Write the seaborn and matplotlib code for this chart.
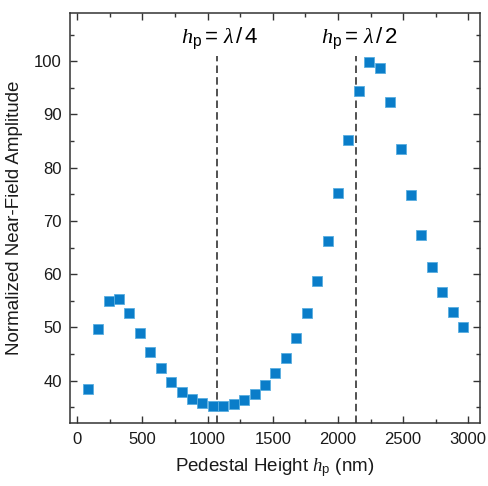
import matplotlib
matplotlib.use("Agg")
import matplotlib.pyplot as plt
import seaborn as sns
import numpy as np
import pandas as pd
from matplotlib.ticker import MultipleLocator

# Data
heights = [80, 160, 240, 320, 400, 480, 560, 640, 720, 800, 880, 960, 1040, 1120,
           1200, 1280, 1360, 1440, 1520, 1600, 1680, 1760, 1840, 1920, 2000, 2080,
           2160, 2240, 2320, 2400, 2480, 2560, 2640, 2720, 2800, 2880, 2960]
amplitude = [38.4, 49.7, 54.9, 55.4, 52.8, 49.0, 45.3, 42.3, 39.8, 37.9, 36.6, 35.8,
             35.3, 35.2, 35.6, 36.3, 37.5, 39.1, 41.4, 44.3, 48.1, 52.8, 58.8, 66.25,
             75.25, 85.25, 94.45, 99.8, 98.7, 92.25, 83.5, 74.9, 67.45, 61.3, 56.6,
             52.9, 50.1]
line_positions = [1070, 2142]
line_labels = [r"$h_{\mathrm{p}}\,\!=\,\lambda\,/\,4$", r"$h_{\mathrm{p}}\,\!=\,\lambda\,/\,2$"]

sns.set_theme(style="ticks")
plt.rcParams['font.family'] = ['Liberation Sans', 'DejaVu Sans']
plt.rcParams['mathtext.fontset'] = 'custom'
plt.rcParams['mathtext.rm'] = 'Liberation Sans'
plt.rcParams['mathtext.it'] = 'Liberation Serif:italic'
plt.rcParams['mathtext.sf'] = 'Liberation Sans'
plt.rcParams['text.color'] = '#1a1a1a'
plt.rcParams['axes.labelcolor'] = '#1a1a1a'
plt.rcParams['xtick.labelcolor'] = '#1a1a1a'
plt.rcParams['ytick.labelcolor'] = '#1a1a1a'

df = pd.DataFrame({"h": heights, "amp": amplitude})

fig = plt.figure(figsize=(4.88, 4.86), dpi=100)
ax = fig.add_axes([0.144, 0.129, 0.8396, 0.8437])

sns.scatterplot(data=df, x="h", y="amp", marker="s", s=62, color="#0a7dc9",
                edgecolor="#5aaee0", linewidth=0.6, ax=ax, zorder=3, legend=False)

for xp, lab in zip(line_positions, line_labels):
    ax.plot([xp, xp], [32, 101], ls=(0, (4.5, 2.5)), color="#333333", lw=1.2, zorder=2)
    ax.text(xp + 20, 102.0, lab, ha="center", va="bottom", fontsize=16, color="black")

ax.set_xlim(-54, 3090)
ax.set_ylim(32, 109)
ax.xaxis.set_major_locator(MultipleLocator(500))
ax.xaxis.set_minor_locator(MultipleLocator(250))
ax.set_yticks([40, 50, 60, 70, 80, 90, 100])
ax.yaxis.set_minor_locator(MultipleLocator(5))

ax.tick_params(which="both", direction="in", top=True, right=True,
               labeltop=False, labelright=False, color="#333333")
ax.tick_params(which="major", length=5.3, width=1.0, labelsize=12, pad=6)
ax.tick_params(which="minor", length=3, width=1.0)
for sp in ax.spines.values():
    sp.set_color("#333333")
    sp.set_linewidth(1.1)

ax.set_xlabel(r"Pedestal Height $h_{\mathrm{p}}$ (nm)", fontsize=13.5, labelpad=7)
ax.set_ylabel("Normalized Near-Field Amplitude", fontsize=13.5, labelpad=8)

fig.savefig("out.png", dpi=100)
